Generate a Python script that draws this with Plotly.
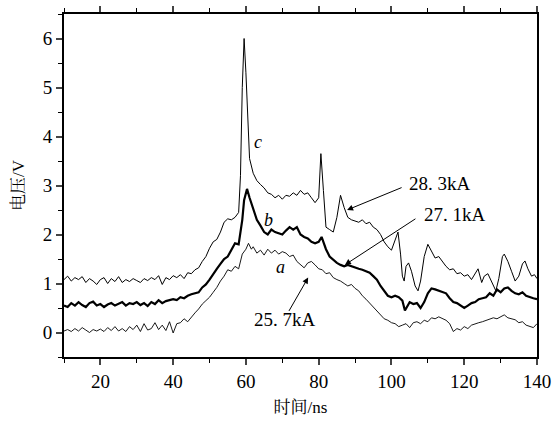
import plotly.graph_objects as go

# ---- data ----
t_c = [10,11,12,13,14,15,16,17,18,19,20,21,22,23,24,25,26,27,28,29,30,31,32,33,34,35,36,37,38,39,40,
       41,42,43,44,45,46,47,48,49,50,51,52,53,54,55,56,57,58,58.5,59,59.5,60,60.5,61,62,63,64,65,66,67,68,69,70,
       71,72,73,74,75,76,77,78,79,80,80.6,81.3,82,83,84,85,86,87,88,89,90,91,92,93,94,95,96,97,98,99,100,
       101,101.8,102.5,103,103.5,104,104.7,105.5,106.5,107.3,108,109,110,111,112,113,114,115,116,117,118,119,120,
       121,122,123,123.8,124.8,125.5,126.5,127.5,128.7,129.5,130.5,131,132,133,134,135,136,136.7,137.5,138.5,139.3,140]
v_c = [1.08,1.15,1.05,1.12,1.08,1.14,1.02,1.10,1.05,0.98,1.08,1.12,1.00,1.10,1.04,1.14,1.02,1.08,1.04,1.10,1.06,
       1.02,1.10,1.06,1.12,1.08,1.16,0.98,1.12,1.08,1.16,1.12,1.18,1.10,1.22,1.20,1.28,1.32,1.45,1.55,1.72,1.85,1.90,
       2.05,2.25,2.32,2.30,2.35,2.45,3.2,5.0,6.0,5.3,4.2,3.55,3.25,3.10,3.02,2.95,2.85,2.82,2.75,2.80,2.72,2.80,2.78,
       2.85,2.80,2.90,2.82,2.85,2.75,2.65,2.75,3.65,2.9,2.15,2.10,2.05,2.35,2.80,2.55,2.35,2.30,2.28,2.25,2.30,2.22,
       2.25,2.15,2.10,2.00,1.85,1.75,1.68,1.90,2.05,1.6,1.15,1.05,1.35,1.42,1.25,0.95,0.85,1.05,1.55,1.80,1.65,1.52,
       1.55,1.45,1.35,1.28,1.30,1.20,1.22,1.15,1.18,1.08,1.20,1.30,1.02,1.15,1.20,1.05,0.85,1.10,1.55,1.60,1.45,1.25,
       1.05,1.15,1.40,1.46,1.30,1.15,1.18,1.10]

t_b = [10,11,12,13,14,15,16,17,18,19,20,21,22,23,24,25,26,27,28,29,30,31,32,33,34,35,36,37,38,39,40,
       41,42,43,44,45,46,47,48,49,50,51,52,53,54,55,56,57,58,59,59.5,60.3,61,62,63,64,65,66,67,68,69,70,
       71,72,73,74,75,76,77,78,79,80,80.8,81.5,82,83,84,85,86,87,88,89,90,91,92,93,94,95,96,97,98,99,100,
       101,102,103,103.7,104.5,105,106,107,108,109,110,111,112,113,114,115,116,117,118,119,120,
       121,122,123,124,125,126,127,128,129,130,131,132,133,134,135,136,137,138,139,140]
v_b = [0.55,0.52,0.60,0.55,0.62,0.56,0.52,0.60,0.63,0.55,0.58,0.52,0.57,0.60,0.55,0.58,0.62,0.55,0.60,0.58,0.62,
       0.56,0.60,0.54,0.62,0.58,0.66,0.60,0.64,0.66,0.68,0.66,0.72,0.70,0.75,0.78,0.80,0.82,0.92,0.98,1.08,1.20,1.30,
       1.40,1.50,1.55,1.68,1.82,1.80,2.30,2.70,2.93,2.75,2.50,2.30,2.18,2.05,2.00,2.10,2.05,2.02,2.00,2.08,2.15,2.10,
       2.15,2.00,1.95,1.92,1.85,1.82,1.85,1.95,1.80,1.70,1.55,1.48,1.42,1.38,1.35,1.38,1.35,1.32,1.30,1.28,1.25,1.22,
       1.15,1.08,0.95,0.85,0.75,0.72,0.75,0.72,0.65,0.45,0.55,0.62,0.58,0.60,0.50,0.62,0.80,0.90,0.88,0.85,0.82,0.80,
       0.70,0.62,0.60,0.55,0.50,0.55,0.60,0.62,0.68,0.70,0.72,0.80,0.75,0.88,0.82,0.90,0.92,0.85,0.80,0.78,0.82,0.75,
       0.72,0.70,0.68]

t_a = [10,11,12,13,14,15,16,17,18,19,20,21,22,23,24,25,26,27,28,29,30,31,32,33,34,35,36,37,38,39,40,
       41,42,43,44,45,46,47,48,49,50,51,52,53,54,55,56,57,58,59,60,60.7,61.5,62,63,64,65,66,67,68,69,70,
       71,72,73,74,75,76,77,78,79,80,81,82,83,84,85,86,87,88,89,90,91,92,93,94,95,96,97,98,99,100,
       101,102,103,104,105,106,107,108,109,110,111,112,113,114,115,116,117,118,119,120,
       121,122,123,124,125,126,127,128,129,130,131,132,133,134,135,136,137,138,139,140]
v_a = [0.03,0.06,0.02,0.08,0.03,0.10,0.05,0.00,0.06,0.03,0.07,0.02,0.10,0.04,0.12,0.03,0.08,0.02,0.12,0.06,0.15,
       0.02,0.18,0.05,0.08,0.20,0.06,0.15,0.04,0.22,-0.01,0.18,0.20,0.28,0.22,0.32,0.40,0.48,0.58,0.65,0.72,0.82,0.92,
       1.05,1.15,1.28,1.25,1.35,1.30,1.60,1.70,1.82,1.70,1.75,1.62,1.68,1.58,1.70,1.62,1.68,1.60,1.65,1.62,1.55,1.58,
       1.45,1.38,1.32,1.42,1.45,1.38,1.30,1.28,1.20,1.22,1.12,1.08,1.05,1.00,0.95,0.98,0.90,0.85,0.75,0.68,0.60,0.52,
       0.45,0.35,0.28,0.25,0.20,0.18,0.12,0.15,0.18,0.10,0.20,0.22,0.18,0.25,0.22,0.30,0.28,0.32,0.28,0.25,0.18,0.02,
       0.08,0.05,0.12,0.08,0.15,0.18,0.20,0.22,0.25,0.28,0.30,0.28,0.32,0.36,0.30,0.28,0.26,0.20,0.22,0.15,0.12,0.10,
       0.18]

x_ticks = [20, 40, 60, 80, 100, 120, 140]
y_ticks = [0, 1, 2, 3, 4, 5, 6]

FONT = "Liberation Serif, Noto Serif CJK SC, Noto Sans CJK SC, serif"

fig = go.Figure()
fig.add_trace(go.Scatter(x=t_a, y=v_a, mode="lines", line=dict(color="black", width=0.9), showlegend=False))
fig.add_trace(go.Scatter(x=t_b, y=v_b, mode="lines", line=dict(color="black", width=2.2), showlegend=False))
fig.add_trace(go.Scatter(x=t_c, y=v_c, mode="lines", line=dict(color="black", width=1.0), showlegend=False))

# curve letters
for txt, x, y in [("c", 63.3, 3.88), ("b", 66.1, 2.3), ("a", 69.4, 1.34)]:
    fig.add_annotation(x=x, y=y, text=txt, showarrow=False,
                       font=dict(family=FONT, size=18, color="black", style="italic"))

# current labels with arrows
labels = [("28. 3kA", 104.3, 3.05, 87.8, 2.5, 103.2, 2.97),
          ("27. 1kA", 108.3, 2.40, 87.2, 1.38, 107.0, 2.34),
          ("25. 7kA", 61.7, 0.26, 77.1, 1.12, 71.6, 0.41)]
for txt, tx, ty, hx, hy, sx, sy in labels:
    fig.add_annotation(x=tx, y=ty, text=txt, showarrow=False, xanchor="left",
                       font=dict(family=FONT, size=19, color="black"))
    fig.add_annotation(x=hx, y=hy, ax=sx, ay=sy, xref="x", yref="y", axref="x", ayref="y",
                       text="", showarrow=True, arrowhead=2, arrowsize=1.2, arrowwidth=1, arrowcolor="black")

fig.update_layout(
    width=553, height=422,
    margin=dict(l=64, r=16, t=14, b=65, autoexpand=False),
    paper_bgcolor="white", plot_bgcolor="white",
    font=dict(family=FONT, size=19, color="black"),
)
fig.update_xaxes(range=[10, 140], tickvals=x_ticks, ticks="outside", ticklen=6, tickwidth=1.5,
                 showline=True, linewidth=2, linecolor="black", mirror="ticks", showgrid=False, zeroline=False,
                 automargin=False,
                 minor=dict(dtick=10, tick0=10, ticks="outside", ticklen=4, tickwidth=1, tickcolor="black"),
                 title=dict(text="时间/ns", font=dict(size=17), standoff=10))
fig.update_yaxes(range=[-0.5, 6.5], tickvals=y_ticks, ticks="outside", ticklen=6, tickwidth=1.5,
                 showline=True, linewidth=2, linecolor="black", mirror=True, showgrid=False, zeroline=False,
                 automargin=False,
                 minor=dict(dtick=0.5, tick0=0, ticks="outside", ticklen=4, tickwidth=1, tickcolor="black"),
                 title=dict(text="电压/V", font=dict(size=17), standoff=14))

fig.write_html("out.html")
